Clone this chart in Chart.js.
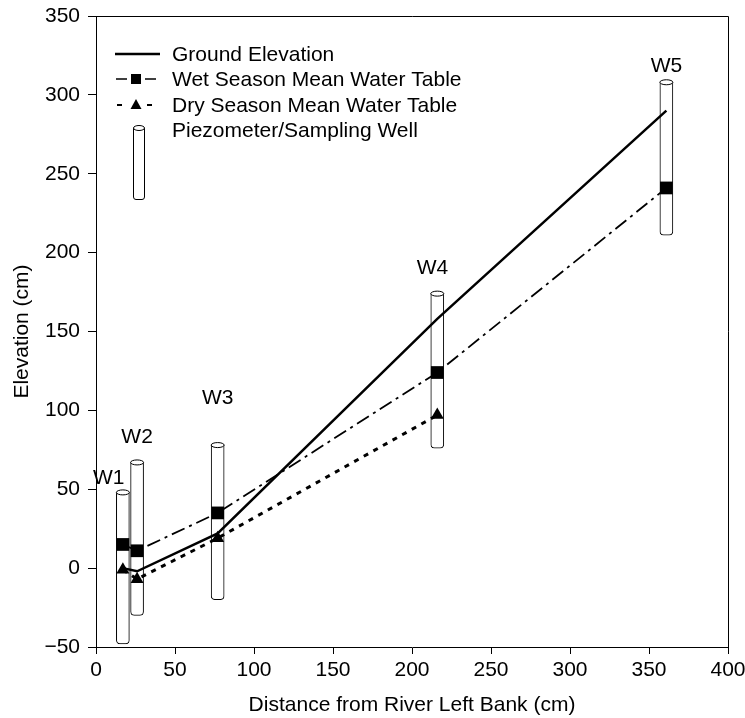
<!DOCTYPE html>
<html>
<head>
<meta charset="utf-8">
<script src="https://cdn.jsdelivr.net/npm/chart.js@4.4.1/dist/chart.umd.min.js"></script>
<style>
  html, body { margin:0; padding:0; background:#fff; }
  #wrap { width:745px; height:718px; }
</style>
</head>
<body>
<div id="wrap"><canvas id="c"></canvas></div>
<script>
// ── DATA ───────────────────────────────────────────────
const wellNames  = ["W1", "W2", "W3", "W4", "W5"];
const wellX      = [17, 26, 77, 216, 361];
const wellTop    = [48, 67, 78, 174, 308];
const wellBottom = [-48, -30, -20, 76, 211];
const labelX     = [8, 26, 77, 213, 361];     // where the well names sit
const labelY     = [57, 83, 108, 190, 318];

const groundX    = [17, 26, 77, 216, 361];
const groundY    = [0, -2, 22, 158, 290];
const wetX       = [17, 26, 77, 216, 361];
const wetY       = [15, 11, 35, 124, 241];
const dryX       = [17, 26, 77, 216];
const dryY       = [-1, -7, 19, 97];

const seriesNames = ["Ground Elevation", "Wet Season Mean Water Table",
                     "Dry Season Mean Water Table", "Piezometer/Sampling Well"];

const X_MIN = 0, X_MAX = 400, X_STEP = 50;
const Y_MIN = -50, Y_MAX = 350, Y_STEP = 50;

// ── STYLE ──────────────────────────────────────────────
const FONT = "'Liberation Sans', Arial, Helvetica, sans-serif";
const FSIZE = 21;
Chart.defaults.font.family = FONT;
Chart.defaults.font.size = FSIZE;
Chart.defaults.color = "#000";

const pts = (xs, ys) => xs.map((x, i) => ({ x, y: ys[i] }));

// top cap (ellipse) of each well, drawn right after the bars
const wellCaps = {
  id: "wellCaps",
  afterDatasetDraw(chart, args) {
    if (chart.data.datasets[args.index].type !== "bar") return;
    const ctx = chart.ctx;
    ctx.save();
    ctx.lineWidth = 1;
    ctx.strokeStyle = "#000";
    ctx.fillStyle = "#fff";
    args.meta.data.forEach(el => {
      ctx.beginPath();
      ctx.ellipse(el.x, el.y, el.width / 2, 2.5, 0, 0, Math.PI * 2);
      ctx.fill();
      ctx.stroke();
    });
    ctx.restore();
  }
};

// W1..W5 names + top/right frame
const extras = {
  id: "extras",
  afterDatasetsDraw(chart) {
    const { ctx, chartArea: a, scales: { x, y } } = chart;
    ctx.save();
    ctx.strokeStyle = "#000";
    ctx.lineWidth = 1;
    ctx.beginPath();
    ctx.moveTo(a.left, a.top + 0.5);
    ctx.lineTo(a.right + 0.5, a.top + 0.5);
    ctx.lineTo(a.right + 0.5, a.bottom);
    ctx.stroke();

    ctx.font = `${FSIZE}px ${FONT}`;
    ctx.fillStyle = "#000";
    ctx.textAlign = "center";
    ctx.textBaseline = "middle";
    wellNames.forEach((n, i) => {
      ctx.fillText(n, x.getPixelForValue(labelX[i]), y.getPixelForValue(labelY[i]));
    });
    ctx.restore();
  }
};

// legend in the upper-left corner of the plot
const legendBox = {
  id: "legendBox",
  afterDraw(chart) {
    const ctx = chart.ctx;
    const rows = [54, 79, 105, 130];
    const tx = 172;
    ctx.save();
    ctx.strokeStyle = "#000";
    ctx.fillStyle = "#000";

    // ground
    ctx.lineWidth = 2.5;
    ctx.beginPath(); ctx.moveTo(115, rows[0]); ctx.lineTo(160, rows[0]); ctx.stroke();

    // wet
    ctx.lineWidth = 1.5;
    ctx.beginPath();
    ctx.moveTo(116, rows[1]); ctx.lineTo(127, rows[1]);
    ctx.moveTo(145, rows[1]); ctx.lineTo(156, rows[1]);
    ctx.stroke();
    ctx.fillRect(131, rows[1] - 5, 10, 10);

    // dry
    ctx.lineWidth = 2;
    ctx.beginPath();
    ctx.moveTo(117, rows[2]); ctx.lineTo(122, rows[2]);
    ctx.moveTo(147, rows[2]); ctx.lineTo(152, rows[2]);
    ctx.stroke();
    ctx.beginPath();
    ctx.moveTo(136, rows[2] - 6);
    ctx.lineTo(141.5, rows[2] + 4);
    ctx.lineTo(130.5, rows[2] + 4);
    ctx.closePath();
    ctx.fill();

    // well icon
    ctx.lineWidth = 1;
    ctx.fillStyle = "#fff";
    const l = 133, r = 145, t = 128, b = 200, rad = 3;
    ctx.beginPath();
    ctx.moveTo(l + 0.5, t);
    ctx.lineTo(l + 0.5, b - rad);
    ctx.quadraticCurveTo(l + 0.5, b - 0.5, l + rad, b - 0.5);
    ctx.lineTo(r - rad, b - 0.5);
    ctx.quadraticCurveTo(r - 0.5, b - 0.5, r - 0.5, b - rad);
    ctx.lineTo(r - 0.5, t);
    ctx.fill(); ctx.stroke();
    ctx.beginPath();
    ctx.ellipse((l + r) / 2, t, (r - l) / 2 - 0.5, 2.5, 0, 0, Math.PI * 2);
    ctx.fill(); ctx.stroke();

    ctx.fillStyle = "#000";
    ctx.font = `${FSIZE}px ${FONT}`;
    ctx.textAlign = "left";
    ctx.textBaseline = "middle";
    seriesNames.forEach((s, i) => ctx.fillText(s, tx, rows[i] + 1));
    ctx.restore();
  }
};

const minusFmt = v => (v < 0 ? "\u2212" + Math.abs(v) : String(v));

new Chart(document.getElementById("c"), {
  type: "scatter",
  data: {
    datasets: [
      {
        type: "line", label: seriesNames[0], data: pts(groundX, groundY),
        borderColor: "#000", borderWidth: 2.5, pointRadius: 0, order: 1
      },
      {
        type: "line", label: seriesNames[1], data: pts(wetX, wetY),
        borderColor: "#000", borderWidth: 1.8, borderDash: [14, 5, 3, 5],
        pointStyle: "rect", pointRadius: 9, pointBackgroundColor: "#000",
        pointBorderWidth: 0, order: 2
      },
      {
        type: "line", label: seriesNames[2], data: pts(dryX, dryY),
        borderColor: "#000", borderWidth: 3, borderDash: [5, 6],
        pointStyle: "triangle", pointRadius: 7.5, pointBackgroundColor: "#000",
        pointBorderWidth: 0, order: 3
      },
      {
        type: "bar", label: seriesNames[3],
        data: wellX.map((x, i) => ({ x, y: [wellBottom[i], wellTop[i]] })),
        backgroundColor: "#fff", borderColor: "#000", borderWidth: 1,
        borderSkipped: false,
        borderRadius: { topLeft: 0, topRight: 0, bottomLeft: 4, bottomRight: 4 },
        barThickness: 13, order: 10
      }
    ]
  },
  options: {
    responsive: true,
    maintainAspectRatio: false,
    animation: false,
    events: [],
    layout: { padding: { top: 16, right: 17, left: 0, bottom: 0 } },
    plugins: { legend: { display: false }, tooltip: { enabled: false } },
    scales: {
      x: {
        type: "linear", min: X_MIN, max: X_MAX, offset: false,
        ticks: { stepSize: X_STEP, color: "#000", padding: 4, maxRotation: 0, callback: minusFmt },
        grid: { offset: false, drawOnChartArea: false, drawTicks: true, tickLength: 7, tickColor: "#000" },
        border: { display: true, color: "#000", width: 1 },
        title: { display: true, text: "Distance from River Left Bank (cm)", padding: { top: 0, bottom: 0 } },
        afterFit(s) { s.height = 71; s.paddingLeft = 0; s.paddingRight = 0; }
      },
      y: {
        type: "linear", min: Y_MIN, max: Y_MAX,
        ticks: { stepSize: Y_STEP, color: "#000", padding: 8, callback: minusFmt },
        grid: { drawOnChartArea: false, drawTicks: true, tickLength: 8, tickColor: "#000" },
        border: { display: true, color: "#000", width: 1 },
        title: { display: true, text: "Elevation (cm)", padding: { top: 10, bottom: 0 } },
        afterFit(s) { s.width = 96; s.paddingTop = 0; s.paddingBottom = 0; }
      }
    }
  },
  plugins: [wellCaps, extras, legendBox]
});
</script>
</body>
</html>
